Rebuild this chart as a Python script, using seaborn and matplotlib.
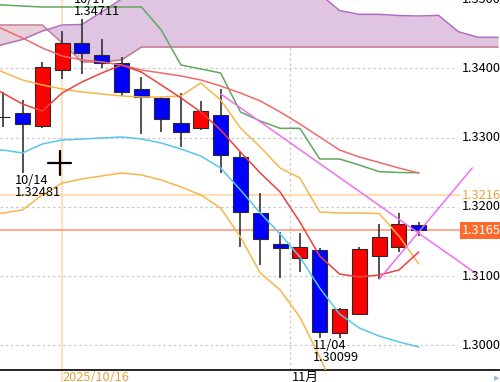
import numpy as np
import pandas as pd
import matplotlib
matplotlib.use("Agg")
import matplotlib.pyplot as plt
import matplotlib.transforms as mtransforms
from matplotlib.lines import Line2D
import seaborn as sns

# ---------------- data ----------------
dates = ["10/13", "10/14", "10/15", "10/16", "10/17", "10/20", "10/21", "10/22",
         "10/23", "10/24", "10/27", "10/28", "10/29", "10/30", "10/31", "11/03",
         "11/04", "11/05", "11/06", "11/07", "11/10", "11/11"]
opens = [1.33300, 1.33359, 1.33167, 1.33975, 1.34361, 1.34192, 1.34081, 1.33697,
         1.33567, 1.33214, 1.33142, 1.33325, 1.32715, 1.31906, 1.31463, 1.31256,
         1.31376, 1.30173, 1.30448, 1.31289, 1.31415, 1.31733]
closes = [1.33295, 1.33196, 1.34014, 1.34369, 1.34225, 1.34072, 1.33658, 1.33590,
          1.33268, 1.33084, 1.33388, 1.32748, 1.31929, 1.31535, 1.31401, 1.31415,
          1.30196, 1.30524, 1.31386, 1.31557, 1.31751, 1.31659]
highs = [1.33657, 1.33542, 1.34086, 1.34543, 1.34711, 1.34423, 1.34159, 1.33870,
         1.33590, 1.33639, 1.33532, 1.33697, 1.32795, 1.32195, 1.31640, 1.31617,
         1.31401, 1.30538, 1.31424, 1.31751, 1.31915, 1.31785]
lows = [1.33152, 1.32481, 1.33133, 1.33841, 1.33917, 1.34000, 1.33600, 1.33051,
        1.33084, 1.32868, 1.33109, 1.32483, 1.31415, 1.31159, 1.30967, 1.31063,
        1.30099, 1.30101, 1.30440, 1.30953, 1.31351, 1.31578]

# indicator lines (index -1 .. 21)
line_idx = list(range(-1, 22))
tenkan = [1.33802, 1.33643, 1.33484, 1.33383, 1.33643, 1.33802, 1.33932, 1.34047,
          1.33946, 1.33759, 1.33571, 1.33369, 1.33109, 1.32791, 1.32488, 1.32214,
          1.31780, 1.31289, 1.31029, 1.30986, 1.31015, 1.31087, 1.31347]
kijun = [1.34928, 1.34914, 1.34899, 1.34885, 1.34885, 1.34885, 1.34885, 1.34885,
         1.34885, 1.34553, 1.34047, 1.33990, 1.33932, 1.33369, 1.33239, 1.33133,
         1.33133, 1.32690, 1.32690, 1.32603, 1.32507, 1.32495, 1.32492]
ma_long = [1.34697, 1.34567, 1.34437, 1.34293, 1.34177, 1.34120, 1.34091, 1.34047,
           1.33975, 1.33932, 1.33889, 1.33831, 1.33744, 1.33643, 1.33528, 1.33369,
           1.33195, 1.33008, 1.32820, 1.32719, 1.32640, 1.32560, 1.32488]
band_upper = [1.34091, 1.33946, 1.33831, 1.33759, 1.33701, 1.33658, 1.33629, 1.33600,
              1.33585, 1.33585, 1.33600, 1.33788, 1.33542, 1.33138, 1.32863, 1.32560,
              1.32416, 1.31925, 1.31910, 1.31910, 1.31903, 1.31578, 1.31174]
band_lower = [1.31910, 1.31910, 1.31954, 1.32170, 1.32343, 1.32401, 1.32445, 1.32488,
              1.32459, 1.32387, 1.32286, 1.32170, 1.31982, 1.31564, 1.31044, 1.30798,
              1.30408, 1.29831, 1.29210, 1.29066, 1.29066, 1.29138, 1.29282]
ma_cyan = [1.32820, 1.32820, 1.32777, 1.32907, 1.32964, 1.32979, 1.32993, 1.33008,
           1.32979, 1.32921, 1.32834, 1.32733, 1.32560, 1.32242, 1.31910, 1.31607,
           1.31275, 1.30827, 1.30452, 1.30250, 1.30134, 1.30048, 1.29975]

# cloud (index -1 .. 25)
cloud_idx = list(range(-1, 26))
span_a = [1.34271, 1.34343, 1.34416, 1.34538, 1.34625, 1.34632, 1.34813, 1.35000,
          1.35130, 1.35246, 1.35333, 1.35390, 1.35419, 1.35419, 1.35361, 1.35275,
          1.35188, 1.35073, 1.34834, 1.34779, 1.34779, 1.34762, 1.34755, 1.34765,
          1.34528, 1.34447, 1.34447]
span_b = [1.34625, 1.34625, 1.34625, 1.34625, 1.34365, 1.34091, 1.34091, 1.34120,
          1.34307, 1.34307, 1.34307, 1.34307, 1.34307, 1.34307, 1.34307, 1.34307,
          1.34307, 1.34307, 1.34307, 1.34307, 1.34307, 1.34307, 1.34307, 1.34307,
          1.34307, 1.34307, 1.34307]

# trend lines
trend_down_x = [11, 23.85]
trend_down_y = [1.33630, 1.31045]
trend_up_x = [19, 23.7]
trend_up_y = [1.30953, 1.32560]

grid_prices = [1.30, 1.31, 1.32, 1.33, 1.34, 1.35]
grid_labels = ["1.30000", "1.31000", "1.32000", "1.33000", "1.34000", "1.35000"]
level_price = 1.32165
level_label = "1.32165"
last_price = 1.31659
last_label = "1.31659"
high_idx, low_idx1, low_idx2 = 4, 1, 16
date_line_idx = 3
date_line_label = "2025/10/16"
month_line_idx = 14.51
month_label = "11月"

# ---------------- style ----------------
sns.set_theme(style="white")
plt.rcParams["font.family"] = ["Liberation Sans Narrow", "Noto Sans CJK JP", "DejaVu Sans"]
FS = 9.2

W, H = 500, 382
fig = plt.figure(figsize=(W / 100, H / 100), dpi=100)
fig.patch.set_facecolor("white")
ax = fig.add_axes([0, 12 / H, 1, 370 / H])
ax.set_facecolor("white")

# cloud
a = np.array(span_a)
b = np.array(span_b)
ax.fill_between(cloud_idx, a, b, where=a >= b, interpolate=True,
                color="#dfc5e2", lw=0, zorder=1)
ax.fill_between(cloud_idx, a, b, where=a < b, interpolate=True,
                color="#e7d0d9", lw=0, zorder=1)

# grid
for p in grid_prices:
    ax.axhline(p, xmin=0, xmax=457 / W, color="#c9c9c9", lw=0.9,
               ls=(0, (2, 2.2)), zorder=0.5)
ax.axvline(month_line_idx, color="#c9c9c9", lw=0.9, ls=(0, (2, 2.2)), zorder=0.5)
ax.axvline(date_line_idx, ymin=-12 / 370, ymax=1, color="#fbe2c3", lw=1.6,
           zorder=0.6, clip_on=False)

# price levels
ax.axhline(level_price, xmin=0, xmax=460 / W, color="#fdd7a6", lw=1.2, zorder=2)
ax.axhline(last_price, xmin=0, xmax=460 / W, color="#ff9a7c", lw=1.2, zorder=2)

# candles
idx = np.arange(len(opens))
o = np.array(opens); c = np.array(closes)
body_bottom = np.minimum(o, c)
body_h = np.maximum(np.abs(c - o), 0.00004)
cols = ["#ff0000" if cc > oo else "#0000ff" for oo, cc in zip(o, c)]
ax.vlines(idx, lows, highs, color="#333333", lw=1.2, zorder=2.5)
ax.bar(idx, body_h, bottom=body_bottom, width=0.76, color=cols,
       edgecolor="#2a2a2a", linewidth=0.8, zorder=3)

# indicator lines via seaborn
def sline(y, color, z=4, lw=1.1, x=line_idx):
    sns.lineplot(x=x, y=y, color=color, lw=lw, ax=ax, zorder=z, sort=False,
                 estimator=None)

sline(span_a, "#b26fc2", z=1.5, x=cloud_idx)
sline(span_b, "#c47a8c", z=1.5, x=cloud_idx)
sline(band_upper, "#f8b64a")
sline(band_lower, "#f8b64a")
sline(ma_cyan, "#58c6ef")
sline(kijun, "#5fa85f")
sline(ma_long, "#f06a6a")
sline(tenkan, "#ee4040")
sline(trend_down_y, "#f06ef0", z=4.5, x=trend_down_x)
sline(trend_up_y, "#f06ef0", z=4.5, x=trend_up_x)

ax.set_xlim(-0.136, 25.1)
ax.set_ylim(1.29643, 1.34986)
ax.set_xlabel(""); ax.set_ylabel("")
ax.set_xticks([]); ax.set_yticks([])
for s in ["top", "left", "right"]:
    ax.spines[s].set_visible(False)
ax.spines["bottom"].set_color("#000000")
ax.spines["bottom"].set_linewidth(1.2)
if ax.get_legend():
    ax.get_legend().remove()

# high/low annotations
off = dict(fontsize=FS, color="#000000", linespacing=0.95, zorder=6)
ax.text(high_idx - 0.40, highs[high_idx] + 0.00012,
        f"{dates[high_idx]}\n{highs[high_idx]:.5f}", ha="left", va="bottom", **off)
ax.text(low_idx1 - 0.38, lows[low_idx1] - 0.00005,
        f"{dates[low_idx1]}\n{lows[low_idx1]:.5f}", ha="left", va="top", **off)
ax.text(low_idx2 - 0.33, lows[low_idx2] - 0.00005,
        f"{dates[low_idx2]}\n{lows[low_idx2]:.5f}", ha="left", va="top", **off)

# right price labels
tr = mtransforms.blended_transform_factory(ax.transAxes, ax.transData)
for p, lab in zip(grid_prices, grid_labels):
    ax.text(462 / W, p, lab, transform=tr, ha="left", va="center",
            fontsize=FS, color="#000000", zorder=6, clip_on=False)
ax.text(462 / W, level_price, level_label, transform=tr, ha="left", va="center",
        fontsize=FS, color="#f0a040", zorder=6)
ax.text(462 / W, last_price, last_label, transform=tr, ha="left", va="center",
        fontsize=FS, color="white", zorder=7,
        bbox=dict(boxstyle="square,pad=0.15", fc="#ff6a2a", ec="none"))

# bottom labels
fig.text(62 / W, 1 - 371 / H, date_line_label, ha="left", va="top",
         fontsize=FS, color="#e6a33a")
fig.text(292 / W, 1 - 371 / H, month_label, ha="left", va="top",
         fontsize=FS, color="#000000")
fig.text(497 / W, 1 - 378 / H, "▶", ha="center", va="center", fontsize=5,
         color="#8cb8e6", family="DejaVu Sans")

# cursor crosshair
ax.add_line(Line2D([48 / W, 71 / W], [1 - 163 / 370] * 2, transform=ax.transAxes,
                   color="black", lw=1.6, zorder=8))
ax.add_line(Line2D([59.5 / W] * 2, [1 - 151 / 370, 1 - 175 / 370],
                   transform=ax.transAxes, color="black", lw=1.6, zorder=8))

fig.savefig("out.png", dpi=100)
